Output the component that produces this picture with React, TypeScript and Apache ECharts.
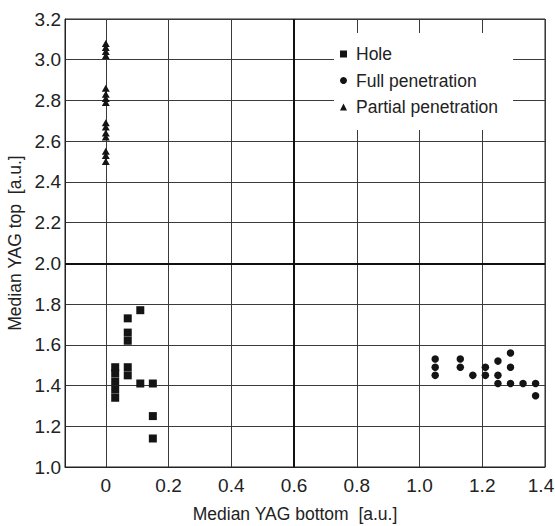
import React, { useEffect, useRef } from "react";
import * as echarts from "echarts";

const seriesNames = ["Hole", "Full penetration", "Partial penetration"];

const holePoints: [number, number][] = [
  [0.11, 1.77], [0.07, 1.73], [0.07, 1.66], [0.07, 1.62],
  [0.03, 1.49], [0.03, 1.46], [0.03, 1.42], [0.03, 1.38], [0.03, 1.34],
  [0.07, 1.49], [0.07, 1.45], [0.11, 1.41], [0.15, 1.41],
  [0.15, 1.25], [0.15, 1.14],
];

const fullPoints: [number, number][] = [
  [1.05, 1.53], [1.05, 1.49], [1.05, 1.45],
  [1.13, 1.53], [1.13, 1.49], [1.17, 1.45],
  [1.21, 1.49], [1.21, 1.45],
  [1.25, 1.52], [1.25, 1.45], [1.25, 1.41],
  [1.29, 1.56], [1.29, 1.49], [1.29, 1.41],
  [1.33, 1.41], [1.37, 1.41], [1.37, 1.35],
];

const partialX = 0;
const partialY = [
  3.08, 3.06, 3.04, 3.02,
  2.86, 2.83, 2.81, 2.79,
  2.69, 2.67, 2.64, 2.62,
  2.55, 2.53, 2.5,
];

const xTicks = [0, 0.2, 0.4, 0.6, 0.8, 1.0, 1.2, 1.4];
const xRange = [-0.13, 1.4];
const yRange = [1.0, 3.2];
const yStep = 0.2;
const boldX = [0.6];
const boldY = [2.0];

export default function App() {
  const ref = useRef<HTMLDivElement>(null);
  useEffect(() => {
    const chart = echarts.init(ref.current!, null, { renderer: "svg" });
    const numFont = "'Liberation Sans', Arial, sans-serif";
    const txtFont = "'Liberation Sans', Arial, sans-serif";
    const ink = "#141414";
    const lastX = xTicks[xTicks.length - 1];
    chart.setOption({
      animation: false,
      grid: {
        left: 65, top: 19, width: 480, height: 448,
        show: true, borderColor: "#222", borderWidth: 1, backgroundColor: "transparent",
        containLabel: false, outerBoundsMode: "none",
      },
      xAxis: {
        type: "value", min: xRange[0], max: xRange[1],
        axisLine: { show: true, onZero: false, lineStyle: { color: "#222", width: 1 } },
        axisTick: { show: false, customValues: xTicks },
        axisLabel: {
          customValues: xTicks,
          formatter: (v: number) => {
            const s = v === 0 ? "0" : v.toFixed(1);
            return Math.abs(v - lastX) < 1e-9 ? `{edge|${s}}` : s;
          },
          rich: {
            edge: { fontFamily: numFont, fontSize: 19, color: "#222", padding: [0, 8, 0, 0] },
          },
          margin: 9, fontFamily: numFont, fontSize: 19, color: "#222",
        },
        splitLine: { show: true, lineStyle: { color: "#3a3a3a", width: 1 } },
        name: "Median YAG bottom  [a.u.]",
        nameLocation: "middle", nameGap: 38,
        nameTextStyle: { fontFamily: txtFont, fontSize: 17.5, color: "#222", padding: [0, 20, 0, 0] },
      },
      yAxis: {
        type: "value", min: yRange[0], max: yRange[1], interval: yStep,
        axisLine: { show: true, onZero: false, lineStyle: { color: "#222", width: 1 } },
        axisTick: { show: false },
        axisLabel: {
          formatter: (v: number) => v.toFixed(1),
          margin: 4, fontFamily: numFont, fontSize: 19, color: "#222",
        },
        splitLine: { show: true, lineStyle: { color: "#3a3a3a", width: 1 } },
        name: "Median YAG top  [a.u.]",
        nameLocation: "middle", nameGap: 35,
        nameTextStyle: { fontFamily: txtFont, fontSize: 17.5, color: "#222" },
      },
      legend: {
        orient: "vertical", left: 334, top: 33,
        padding: [12, 15, 14, 6], itemGap: 8.5, itemWidth: 7, itemHeight: 7,
        backgroundColor: "#fff",
        itemStyle: { opacity: 1 },
        textStyle: { fontFamily: txtFont, fontSize: 17.5, color: "#222", padding: [0, 0, 0, 4] },
        data: seriesNames,
      },
      series: [
        {
          name: seriesNames[0], type: "scatter", symbol: "rect", symbolSize: 8,
          itemStyle: { color: ink, opacity: 1 }, data: holePoints,
          markLine: {
            silent: true, symbol: ["none", "none"], label: { show: false },
            lineStyle: { color: "#111", width: 2, type: "solid", opacity: 1 },
            data: [
              ...boldX.map((v) => ({ xAxis: v })),
              ...boldY.map((v) => ({ yAxis: v })),
            ],
          },
        },
        {
          name: seriesNames[1], type: "scatter", symbol: "circle", symbolSize: 7.5,
          itemStyle: { color: ink, opacity: 1 }, data: fullPoints,
        },
        {
          name: seriesNames[2], type: "scatter", symbol: "triangle", symbolSize: [8, 7],
          itemStyle: { color: ink, opacity: 1 }, data: partialY.map((y) => [partialX, y]),
        },
      ],
    });
    return () => chart.dispose();
  }, []);
  return (
    <div
      ref={ref}
      style={{ position: "absolute", left: 0, top: 0, width: 555, height: 526, background: "#fff" }}
    />
  );
}
